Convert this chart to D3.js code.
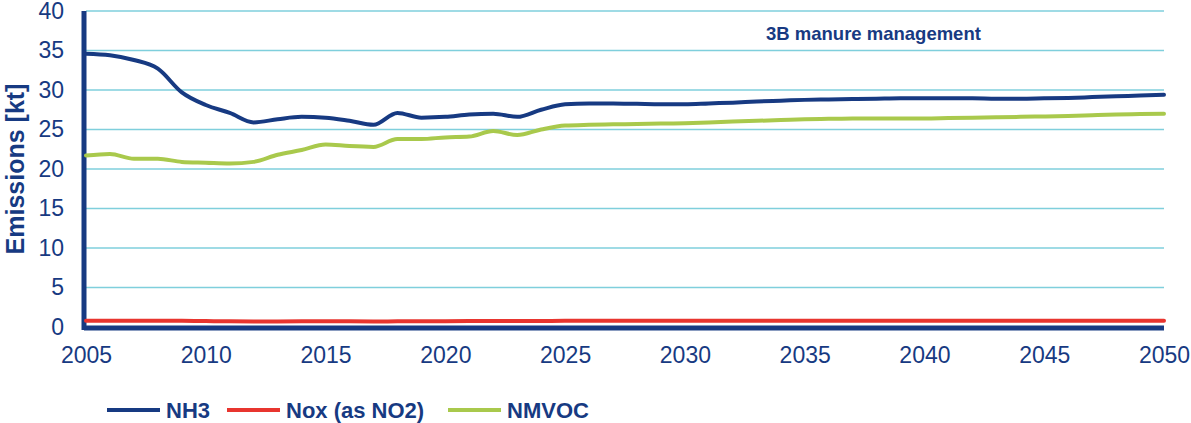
<!DOCTYPE html>
<html><head><meta charset="utf-8">
<script src="https://cdn.jsdelivr.net/npm/d3@7"></script>
<style>body{margin:0;background:#fff}svg{display:block}</style>
</head><body>
<svg id="c" width="1191" height="423"></svg>
<script>
const years = d3.range(2005, 2051);
const nh3 = [34.6,34.4,33.8,32.7,29.7,28.1,27.1,25.9,26.3,26.6,26.5,26.1,25.6,27.1,26.5,26.6,26.9,27.0,26.6,27.5,
  28.2,28.3,28.3,28.25,28.2,28.2,28.3,28.4,28.55,28.65,28.75,28.8,28.85,28.9,28.95,28.95,28.95,28.95,28.9,28.9,
  28.95,29.0,29.1,29.2,29.3,29.4];
const nox = [0.8,0.8,0.8,0.8,0.78,0.75,0.72,0.7,0.7,0.72,0.73,0.72,0.7,0.72,0.73,0.74,0.75,0.75,0.75,0.76,
  0.78,0.78,0.78,0.78,0.78,0.78,0.78,0.78,0.78,0.79,0.79,0.79,0.79,0.79,0.79,0.79,0.79,0.8,0.8,0.8,
  0.8,0.8,0.8,0.8,0.8,0.8];
const nmvoc = [21.7,21.9,21.3,21.3,20.9,20.8,20.7,20.9,21.8,22.4,23.1,22.9,22.8,23.8,23.8,24.0,24.1,24.8,24.3,25.0,
  25.5,25.6,25.65,25.7,25.75,25.8,25.9,26.0,26.1,26.2,26.3,26.35,26.4,26.4,26.4,26.4,26.45,26.5,26.55,26.6,
  26.65,26.7,26.8,26.9,26.95,27.0];
const yTicks = [0,5,10,15,20,25,30,35,40];
const xTicks = [2005,2010,2015,2020,2025,2030,2035,2040,2045,2050];
const seriesNames = ["NH3","Nox (as NO2)","NMVOC"];
const colors = ["#173a82","#e8352f","#a9c94c"];
const title = "3B manure management";
const yLabel = "Emissions [kt]";

const svg = d3.select("#c");
const L = 86, R = 1164, T = 11, B = 327;
const x = d3.scaleLinear().domain([2005,2050]).range([L,R]);
const y = d3.scaleLinear().domain([0,40]).range([B,T]);
const navy = "#173a82";
const font = "'Liberation Sans', Arial, sans-serif";

// gridlines
svg.append("g").selectAll("line").data(yTicks.filter(d=>d>0)).join("line")
  .attr("x1",L).attr("x2",R).attr("y1",d=>y(d)).attr("y2",d=>y(d))
  .attr("stroke","#7fcfdc").attr("stroke-width",1.3);

// y axis
const ya = svg.append("g").attr("transform",`translate(${L},0)`)
  .call(d3.axisLeft(y).tickValues(yTicks).tickSize(0).tickPadding(22));
ya.select(".domain").remove();
ya.selectAll("text").attr("font-family",font).attr("font-size",23).attr("fill",navy);

// x axis
const xa = svg.append("g").attr("transform",`translate(0,${B})`)
  .call(d3.axisBottom(x).tickValues(xTicks).tickFormat(d3.format("d")).tickSize(0).tickPadding(20));
xa.select(".domain").remove();
xa.selectAll("text").attr("font-family",font).attr("font-size",23).attr("fill",navy);

// axis lines thick
svg.append("line").attr("x1",L-2).attr("x2",L-2).attr("y1",T).attr("y2",B+3)
  .attr("stroke",navy).attr("stroke-width",5);
svg.append("line").attr("x1",L-2).attr("x2",R).attr("y1",B+1).attr("y2",B+1)
  .attr("stroke",navy).attr("stroke-width",5);

// lines
const line = d3.line().x((d,i)=>x(years[i])).y(d=>y(d)).curve(d3.curveMonotoneX);
[nh3,nox,nmvoc].forEach((s,i)=>{
  svg.append("path").datum(s).attr("d",line).attr("fill","none")
    .attr("stroke",colors[i]).attr("stroke-width",4).attr("stroke-linecap","round");
});

// title
svg.append("text").attr("x",766).attr("y",40).text(title)
  .attr("font-family",font).attr("font-weight","bold").attr("font-size",18.5).attr("fill",navy);

// y label
svg.append("text").attr("transform","translate(24,169) rotate(-90)").attr("text-anchor","middle")
  .text(yLabel).attr("font-family",font).attr("font-weight","bold").attr("font-size",25).attr("fill",navy);

// legend
const legX = [107,227,448];
seriesNames.forEach((n,i)=>{
  const g = svg.append("g").attr("transform",`translate(${legX[i]},410)`);
  g.append("line").attr("x1",0).attr("x2",53).attr("stroke",colors[i]).attr("stroke-width",4);
  g.append("text").attr("x",59).attr("y",8).text(n).attr("font-family",font)
    .attr("font-weight","bold").attr("font-size",22).attr("fill",navy);
});
</script>
</body></html>
